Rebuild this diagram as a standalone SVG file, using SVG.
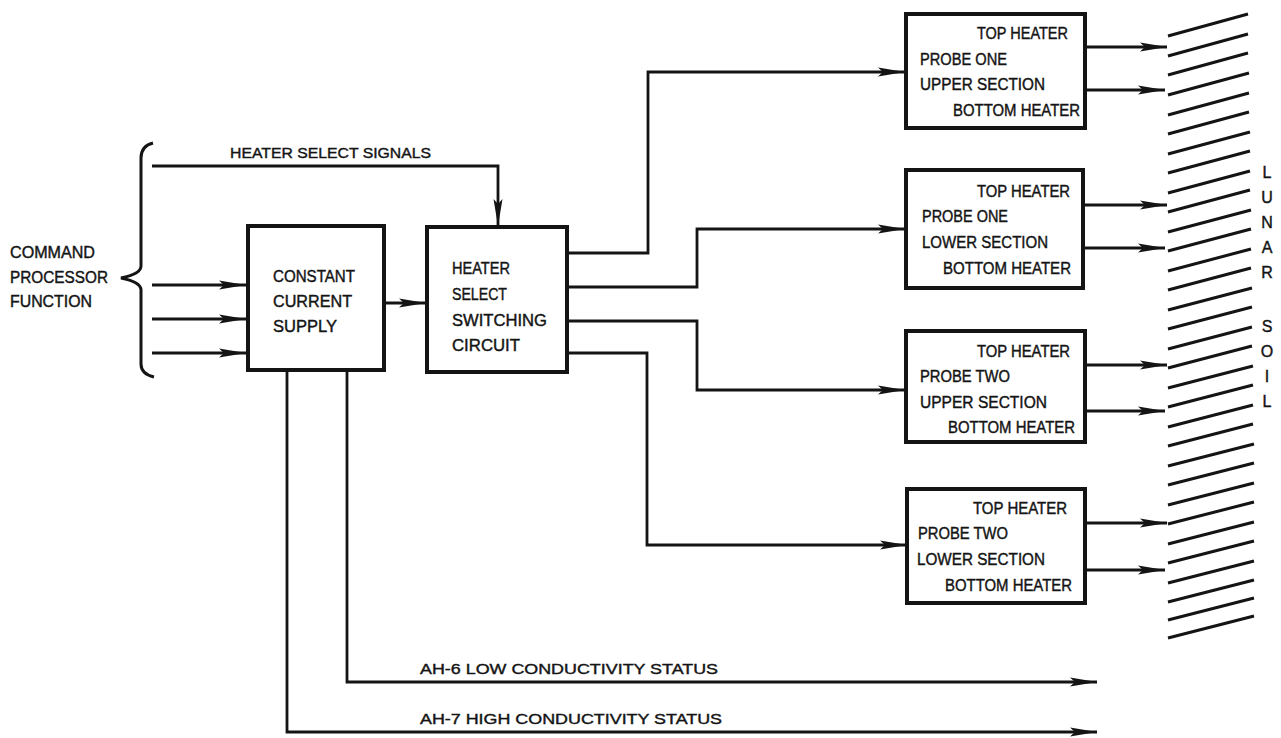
<svg xmlns="http://www.w3.org/2000/svg" width="1281" height="738" viewBox="0 0 1281 738">
<style>
text{font-family:"Liberation Sans Narrow","Liberation Sans",Arial,sans-serif;fill:#141414;stroke:#141414;stroke-width:0.4;font-size:16px}
.box{fill:#fff;stroke:#141414;stroke-width:4}
.c{fill:none;stroke:#141414;stroke-width:2.8}
.h{fill:none;stroke:#141414;stroke-width:3}
.lbl{font-size:15px}
</style>
<defs>
<marker id="ah" markerUnits="userSpaceOnUse" markerWidth="28" markerHeight="12" viewBox="0 0 28 12" refX="27" refY="6" orient="auto">
<path d="M0,1.5 L27,6 L0,10.5 L5,6 Z" fill="#141414"/>
</marker>
</defs>
<rect width="1281" height="738" fill="#fff"/>

<g id="brace">
<path class="h" d="M153,143 Q141,146 141,158 V266 Q141,274 121,278 Q141,282 141,290 V364 Q141,374 154,377"/>
</g>
<g id="command-processor">
<text x="10" y="258" textLength="85" lengthAdjust="spacingAndGlyphs">COMMAND</text>
<text x="10" y="283" textLength="98" lengthAdjust="spacingAndGlyphs">PROCESSOR</text>
<text x="10" y="307" textLength="82" lengthAdjust="spacingAndGlyphs">FUNCTION</text>
</g>

<g id="connectors">
<path class="c" d="M152,166 H498 V226" marker-end="url(#ah)"/>
<path class="c" d="M152,285 H246" marker-end="url(#ah)"/>
<path class="c" d="M152,319 H246" marker-end="url(#ah)"/>
<path class="c" d="M152,353 H246" marker-end="url(#ah)"/>
<path class="c" d="M385,303 H426" marker-end="url(#ah)"/>
<path class="c" d="M567,253 H648 V72 H905" marker-end="url(#ah)"/>
<path class="c" d="M567,287 H697 V229 H905" marker-end="url(#ah)"/>
<path class="c" d="M567,321 H697 V390 H905" marker-end="url(#ah)"/>
<path class="c" d="M567,353 H647 V545 H907" marker-end="url(#ah)"/>
<path class="c" d="M1085,47 H1167" marker-end="url(#ah)"/>
<path class="c" d="M1085,90 H1165" marker-end="url(#ah)"/>
<path class="c" d="M1083,205 H1167" marker-end="url(#ah)"/>
<path class="c" d="M1083,248 H1165" marker-end="url(#ah)"/>
<path class="c" d="M1085,365 H1167" marker-end="url(#ah)"/>
<path class="c" d="M1085,411 H1165" marker-end="url(#ah)"/>
<path class="c" d="M1085,523 H1167" marker-end="url(#ah)"/>
<path class="c" d="M1085,570 H1165" marker-end="url(#ah)"/>
<path class="c" d="M347,372 V682 H1097" marker-end="url(#ah)"/>
<path class="c" d="M287,372 V732 H1097" marker-end="url(#ah)"/>
</g>

<g id="signal-labels">
<text class="lbl" x="230" y="158" textLength="201" lengthAdjust="spacingAndGlyphs">HEATER SELECT SIGNALS</text>
<text class="lbl" x="420" y="674" textLength="298" lengthAdjust="spacingAndGlyphs">AH-6  LOW CONDUCTIVITY STATUS</text>
<text class="lbl" x="420" y="724" textLength="302" lengthAdjust="spacingAndGlyphs">AH-7  HIGH CONDUCTIVITY STATUS</text>
</g>

<g id="constant-current-supply">
<rect class="box" x="248" y="226" width="136" height="144"/>
<text x="273" y="282" textLength="82" lengthAdjust="spacingAndGlyphs">CONSTANT</text>
<text x="273" y="307" textLength="79" lengthAdjust="spacingAndGlyphs">CURRENT</text>
<text x="273" y="332" textLength="64" lengthAdjust="spacingAndGlyphs">SUPPLY</text>
</g>

<g id="heater-select-switching-circuit">
<rect class="box" x="427" y="227" width="140" height="145"/>
<text x="452" y="274" textLength="58" lengthAdjust="spacingAndGlyphs">HEATER</text>
<text x="452" y="300" textLength="55" lengthAdjust="spacingAndGlyphs">SELECT</text>
<text x="452" y="326" textLength="95" lengthAdjust="spacingAndGlyphs">SWITCHING</text>
<text x="452" y="351" textLength="68" lengthAdjust="spacingAndGlyphs">CIRCUIT</text>
</g>

<g id="probe-one-upper">
<rect class="box" x="906" y="14" width="179" height="114"/>
<text x="977" y="39" textLength="91" lengthAdjust="spacingAndGlyphs">TOP HEATER</text>
<text x="920" y="65" textLength="87" lengthAdjust="spacingAndGlyphs">PROBE ONE</text>
<text x="920" y="90" textLength="125" lengthAdjust="spacingAndGlyphs">UPPER SECTION</text>
<text x="953" y="116" textLength="127" lengthAdjust="spacingAndGlyphs">BOTTOM HEATER</text>
</g>

<g id="probe-one-lower">
<rect class="box" x="906" y="170" width="177" height="118"/>
<text x="977" y="197" textLength="93" lengthAdjust="spacingAndGlyphs">TOP HEATER</text>
<text x="922" y="222" textLength="86" lengthAdjust="spacingAndGlyphs">PROBE ONE</text>
<text x="922" y="248" textLength="126" lengthAdjust="spacingAndGlyphs">LOWER SECTION</text>
<text x="943" y="274" textLength="128" lengthAdjust="spacingAndGlyphs">BOTTOM HEATER</text>
</g>

<g id="probe-two-upper">
<rect class="box" x="906" y="331" width="179" height="111"/>
<text x="977" y="357" textLength="93" lengthAdjust="spacingAndGlyphs">TOP HEATER</text>
<text x="920" y="382" textLength="90" lengthAdjust="spacingAndGlyphs">PROBE TWO</text>
<text x="920" y="408" textLength="127" lengthAdjust="spacingAndGlyphs">UPPER SECTION</text>
<text x="948" y="433" textLength="127" lengthAdjust="spacingAndGlyphs">BOTTOM HEATER</text>
</g>

<g id="probe-two-lower">
<rect class="box" x="907" y="489" width="178" height="114"/>
<text x="973" y="514" textLength="94" lengthAdjust="spacingAndGlyphs">TOP HEATER</text>
<text x="918" y="539" textLength="90" lengthAdjust="spacingAndGlyphs">PROBE TWO</text>
<text x="917" y="565" textLength="128" lengthAdjust="spacingAndGlyphs">LOWER SECTION</text>
<text x="945" y="591" textLength="127" lengthAdjust="spacingAndGlyphs">BOTTOM HEATER</text>
</g>

<g id="lunar-soil">
<g class="h" stroke-width="2.8">
<path d="M1168,36 l80,-22 M1168,56 l80,-22 M1168,75 l80,-22 M1168,95 l81,-22 M1168,115 l81,-22 M1168,134 l81,-22 M1168,154 l82,-22 M1168,173 l82,-22 M1168,193 l82,-22 M1168,212 l82,-22 M1168,232 l83,-22 M1168,251 l83,-22 M1168,271 l83,-22 M1168,290 l83,-22 M1168,310 l84,-22 M1168,329 l84,-22 M1168,349 l84,-22 M1168,368 l84,-22 M1168,388 l85,-22 M1168,407 l85,-22 M1168,427 l85,-22 M1168,446 l85,-22 M1168,466 l86,-22 M1168,485 l86,-22 M1168,505 l86,-22 M1168,524 l86,-22 M1168,544 l86,-22 M1168,563 l86,-22 M1168,583 l86,-22 M1168,602 l86,-22 M1168,620 l86,-22 M1168,638 l86,-22"/>
</g>
<g font-size="15" text-anchor="middle">
<text x="1267" y="178">L</text>
<text x="1267" y="203">U</text>
<text x="1267" y="228">N</text>
<text x="1267" y="253">A</text>
<text x="1267" y="278">R</text>
<text x="1267" y="332">S</text>
<text x="1267" y="357">O</text>
<text x="1267" y="382">I</text>
<text x="1267" y="407">L</text>
</g>
</g>
</svg>
